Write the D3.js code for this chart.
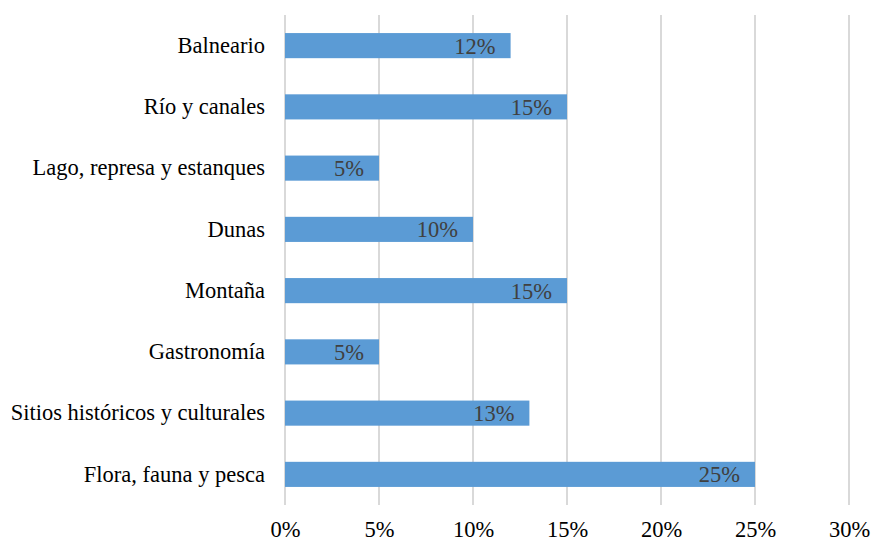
<!DOCTYPE html>
<html>
<head>
<meta charset="UTF-8">
<title>Atractivos</title>
<script src="https://d3js.org/d3.v7.min.js"></script>
</head>
<body style="margin:0">
<svg width="875" height="543" style="font-family: 'Liberation Serif'"></svg>
<script>
// data
const categories = ["Balneario", "Río y canales", "Lago, represa y estanques", "Dunas",
  "Montaña", "Gastronomía", "Sitios históricos y culturales", "Flora, fauna y pesca"];
const values = [12, 15, 5, 10, 15, 5, 13, 25];
const ticks = [0, 5, 10, 15, 20, 25, 30];

const width = 875, height = 543;
const margin = { top: 15, right: 26, bottom: 38, left: 285 };
const font = "Liberation Serif";
const fontSize = "22.5px";

const svg = d3.select("svg");

const x = d3.scaleLinear()
  .domain([0, 30])
  .range([margin.left, width - margin.right]);

const y = d3.scaleBand()
  .domain(categories)
  .range([margin.top, height - margin.bottom])
  .paddingInner(0.59)
  .paddingOuter(0.295);

// gridlines
svg.append("g")
  .selectAll("line")
  .data(ticks)
  .join("line")
  .attr("x1", d => x(d)).attr("x2", d => x(d))
  .attr("y1", margin.top).attr("y2", height - margin.bottom)
  .attr("stroke", "#d9d9d9")
  .attr("stroke-width", 2);

// bars
svg.append("g")
  .selectAll("rect")
  .data(values)
  .join("rect")
  .attr("x", x(0))
  .attr("y", (d, i) => y(categories[i]))
  .attr("width", d => x(d) - x(0))
  .attr("height", y.bandwidth())
  .attr("fill", "#5b9bd5");

// value labels
svg.append("g")
  .selectAll("text")
  .data(values)
  .join("text")
  .attr("x", d => x(d) - 15)
  .attr("y", (d, i) => y(categories[i]) + y.bandwidth() / 2)
  .attr("dy", "0.35em")
  .attr("text-anchor", "end")
  .style("font-family", font)
  .style("font-size", fontSize)
  .attr("fill", "#404040")
  .text(d => d + "%");

// category axis
const yAxis = svg.append("g")
  .attr("transform", `translate(${margin.left},0)`)
  .call(d3.axisLeft(y).tickSize(0).tickPadding(20));
yAxis.select(".domain").remove();
yAxis.attr("font-family", font);
yAxis.selectAll("text")
  .style("font-family", font)
  .style("font-size", fontSize)
  .attr("fill", "#000");

// value axis
const xAxis = svg.append("g")
  .attr("transform", `translate(0,${height - margin.bottom})`)
  .call(d3.axisBottom(x).tickValues(ticks).tickFormat(d => d + "%").tickSize(0).tickPadding(16));
xAxis.select(".domain").remove();
xAxis.attr("font-family", font);
xAxis.selectAll("text")
  .style("font-family", font)
  .style("font-size", fontSize)
  .attr("fill", "#000");
</script>
</body>
</html>
